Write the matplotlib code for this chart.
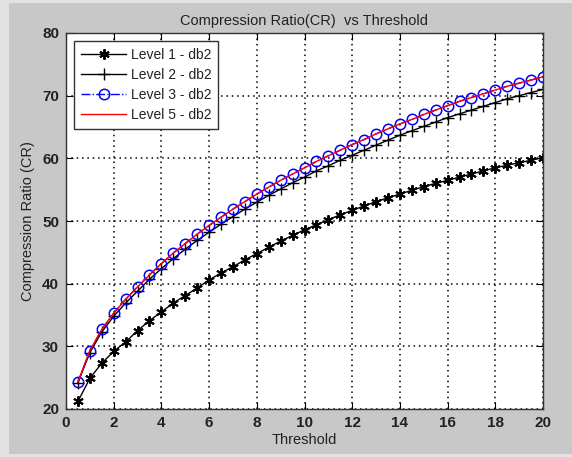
import matplotlib
matplotlib.use("Agg")
import matplotlib.pyplot as plt
from matplotlib.patches import Rectangle

plt.rcParams["font.family"] = ["Liberation Sans", "DejaVu Sans"]

threshold = [0.5, 1, 1.5, 2, 2.5, 3, 3.5, 4, 4.5, 5, 5.5, 6, 6.5, 7, 7.5, 8, 8.5, 9, 9.5, 10,
             10.5, 11, 11.5, 12, 12.5, 13, 13.5, 14, 14.5, 15, 15.5, 16, 16.5, 17, 17.5, 18,
             18.5, 19, 19.5, 20]

level1 = [21.2, 24.9, 27.3, 29.2, 30.7, 32.5, 34.1, 35.5, 36.9, 38.1, 39.3, 40.6, 41.7, 42.7,
          43.8, 44.8, 45.8, 46.8, 47.7, 48.6, 49.4, 50.2, 51.0, 51.7, 52.4, 53.1, 53.7, 54.3,
          54.9, 55.5, 56.0, 56.5, 57.0, 57.5, 58.0, 58.5, 58.9, 59.3, 59.7, 60.1]

level2 = [24.2, 29.0, 32.3, 34.8, 36.9, 38.8, 40.7, 42.4, 44.0, 45.5, 46.9, 48.2, 49.5, 50.7,
          51.9, 53.0, 54.1, 55.1, 56.1, 57.0, 58.0, 58.8, 59.7, 60.5, 61.3, 62.1, 62.9, 63.7,
          64.4, 65.1, 65.8, 66.5, 67.1, 67.7, 68.3, 68.9, 69.5, 70.0, 70.5, 71.0]

level3 = [24.3, 29.3, 32.7, 35.3, 37.5, 39.5, 41.4, 43.2, 44.9, 46.4, 47.9, 49.3, 50.6, 51.9,
          53.1, 54.3, 55.4, 56.5, 57.5, 58.5, 59.5, 60.4, 61.3, 62.2, 63.0, 63.9, 64.7, 65.5,
          66.2, 67.0, 67.7, 68.4, 69.1, 69.7, 70.3, 70.9, 71.5, 72.0, 72.5, 73.0]

level5 = [24.3, 29.3, 32.7, 35.3, 37.5, 39.5, 41.4, 43.2, 44.9, 46.4, 47.9, 49.3, 50.6, 51.9,
          53.1, 54.3, 55.4, 56.5, 57.5, 58.5, 59.5, 60.4, 61.3, 62.2, 63.0, 63.9, 64.7, 65.5,
          66.2, 67.0, 67.7, 68.4, 69.1, 69.7, 70.3, 70.9, 71.5, 72.0, 72.5, 73.0]

txt = "#222222"

fig = plt.figure(figsize=(5.72, 4.57), dpi=100, facecolor="#e2e2e2")
# inner grey panel like the matlab figure window
fig.patches.append(Rectangle((9 / 572, 3 / 457), 1, 451 / 457, transform=fig.transFigure,
                             facecolor="#c8c8c8", edgecolor="none", zorder=-10))

ax = fig.add_axes([66 / 572, 1 - 409 / 457, 477 / 572, 376 / 457])
ax.set_facecolor("white")
ax.set_zorder(5)

# asterisk marker as matlab draws it
ax.plot(threshold, level1, color="black", lw=1.0, marker=(6, 2, 0), ms=7.5, mew=1.4,
        label="Level 1 - db2")
ax.plot(threshold, level2, color="black", lw=1.0, marker="+", ms=8.5, mew=1.0,
        label="Level 2 - db2")
ax.plot(threshold, level3, color="blue", lw=1.0, ls="-.", marker="o", ms=7.5, mfc="none",
        mew=1.1, label="Level 3 - db2")
ax.plot(threshold, level5, color="red", lw=1.0, label="Level 5 - db2")

ax.set_xlim(0, 20)
ax.set_ylim(20, 80)
ax.set_xticks(range(0, 21, 2))
ax.set_yticks(range(20, 81, 10))
ax.grid(True, color="black", linestyle=(0, (1, 2.5)), linewidth=1.1)
ax.tick_params(direction="in", length=5, top=True, right=True, labelsize=11,
               labelcolor=txt, pad=5)
for lab in ax.get_xticklabels() + ax.get_yticklabels():
    lab.set_fontweight("bold")
for s in ax.spines.values():
    s.set_color("#333333")
    s.set_linewidth(1.0)

ax.set_title("Compression Ratio(CR)  vs Threshold", fontsize=10.5, color=txt, pad=6)
ax.set_xlabel("Threshold", fontsize=10.5, color=txt, labelpad=2)
ax.set_ylabel("Compression Ratio (CR)", fontsize=10.5, color=txt, labelpad=5)

leg = ax.legend(loc="upper left", fontsize=10, handlelength=3.3, borderaxespad=0.6,
                fancybox=False, framealpha=1, edgecolor="#333333", labelspacing=0.45,
                borderpad=0.45, handletextpad=0.3)
for t in leg.get_texts():
    t.set_color(txt)

fig.savefig("out.png", dpi=100, facecolor=fig.get_facecolor())
